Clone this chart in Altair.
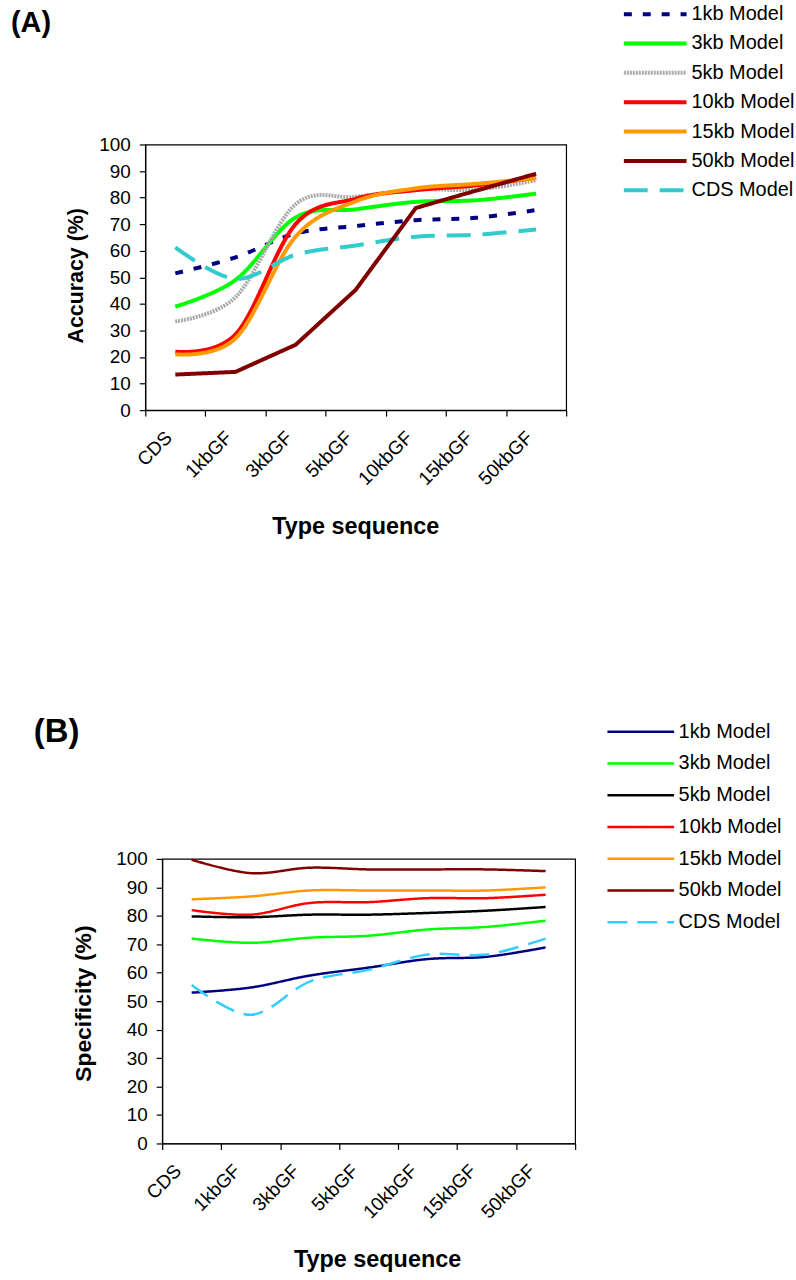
import altair as alt
import pandas as pd

categories = ["CDS", "1kbGF", "3kbGF", "5kbGF", "10kbGF", "15kbGF", "50kbGF"]
models = ["1kb Model", "3kb Model", "5kb Model", "10kb Model", "15kb Model", "50kb Model", "CDS Model"]

# Panel A: Accuracy (%)
acc_1kb = [51.5, 57.5, 66.5, 69.3, 71.5, 72.4, 75.3]
acc_3kb = [39.0, 49.0, 72.5, 75.6, 78.4, 79.0, 81.5]
acc_5kb = [33.4, 42.5, 77.5, 80.3, 83.0, 83.0, 86.5]
acc_10kb = [22.0, 28.5, 70.0, 79.6, 82.8, 84.6, 87.5]
acc_15kb = [21.0, 27.0, 65.3, 78.6, 83.5, 85.2, 87.3]
acc_50kb = [13.4, 14.4, 24.6, 45.3, 76.1, 82.6, 89.0]
acc_cds = [61.3, 49.4, 58.5, 62.0, 65.3, 66.0, 68.0]

# Panel B: Specificity (%)
spec_1kb = [53.0, 54.8, 59.0, 61.8, 64.8, 65.6, 68.9]
spec_3kb = [72.0, 70.5, 72.3, 73.0, 75.2, 76.1, 78.3]
spec_5kb = [79.8, 79.5, 80.4, 80.4, 81.0, 81.8, 83.1]
spec_10kb = [82.0, 80.4, 84.5, 84.8, 86.2, 86.2, 87.4]
spec_15kb = [85.8, 86.8, 88.9, 88.9, 88.9, 88.9, 90.0]
spec_50kb = [99.7, 95.0, 96.9, 96.3, 96.3, 96.3, 95.7]
spec_cds = [55.7, 45.2, 56.9, 61.0, 66.4, 66.4, 72.0]

FONT = "Liberation Sans"

colors_a = ["#000080", "#00FF00", "#A9A9A9", "#FF0000", "#FF9900", "#800000", "#33CCCC"]
dash_a = [[8, 11], [1, 0], [2, 1], [1, 0], [1, 0], [1, 0], [24, 12]]
colors_b = ["#000080", "#00FF00", "#000000", "#FF0000", "#FF9900", "#800000", "#33CCFF"]
dash_b = [[1, 0], [1, 0], [1, 0], [1, 0], [1, 0], [1, 0], [20, 10]]


def long_frame(series):
    rows = []
    for model, vals in zip(models, series):
        for cat, v in zip(categories, vals):
            rows.append({"type": cat, "model": model, "value": v})
    return pd.DataFrame(rows)


def panel(df, colors, dashes, width, height, ytitle, sw, legend_x, legend_y,
          row_pad, sym_size, clip_h, label_offset, ytitle_x, ytitle_y, ytitle_size,
          xtitle_x, panel_label, lab_x, lab_y, lab_size, linear_models):
    x = alt.X(
        "type:N", sort=categories, bandPosition=0.5,
        scale=alt.Scale(type="band", paddingInner=0, paddingOuter=0),
        axis=alt.Axis(title="Type sequence", tickBand="extent", labelAngle=-45,
                      labelAlign="right", labelBaseline="middle",
                      labelOffset=label_offset, labelPadding=18, tickSize=6,
                      labelFontSize=19, titleFontSize=23.5, titleFontWeight="bold",
                      titleX=xtitle_x, titleY=124, titleBaseline="alphabetic",
                      titleAlign="center"),
    )
    y = alt.Y(
        "value:Q", scale=alt.Scale(domain=[0, 100], nice=False),
        axis=alt.Axis(title=ytitle, values=list(range(0, 101, 10)), tickSize=6,
                      labelFontSize=19, labelPadding=9, grid=False,
                      titleFontSize=ytitle_size, titleFontWeight="bold",
                      titleX=ytitle_x, titleY=ytitle_y, titleAngle=270,
                      titleBaseline="alphabetic", titleAlign="center"),
    )
    leg = alt.Legend(title=None, orient="none", legendX=legend_x, legendY=legend_y,
                     symbolType="stroke", symbolSize=sym_size, symbolStrokeWidth=sw,
                     labelFontSize=20, labelOffset=3, rowPadding=row_pad, padding=0,
                     clipHeight=clip_h)
    color = alt.Color("model:N", scale=alt.Scale(domain=models, range=colors), legend=leg)
    dash = alt.StrokeDash("model:N", scale=alt.Scale(domain=models, range=dashes), legend=leg)
    base = alt.Chart(df).encode(x=x, y=y, color=color, strokeDash=dash)
    smooth_models = [m for m in models if m not in linear_models]
    layers = [
        base.transform_filter(alt.FieldOneOfPredicate(field="model", oneOf=smooth_models))
        .mark_line(interpolate="cardinal", strokeWidth=sw)
    ]
    if linear_models:
        layers.append(
            base.transform_filter(alt.FieldOneOfPredicate(field="model", oneOf=linear_models))
            .mark_line(strokeWidth=sw)
        )
    lab = alt.Chart(pd.DataFrame({"t": [panel_label]})).mark_text(
        align="left", baseline="alphabetic", fontSize=lab_size, fontWeight="bold", font=FONT
    ).encode(text="t:N", x=alt.value(lab_x), y=alt.value(lab_y))
    layers.append(lab)
    return alt.layer(*layers).properties(width=width, height=height)


panel_a = panel(long_frame([acc_1kb, acc_3kb, acc_5kb, acc_10kb, acc_15kb, acc_50kb, acc_cds]),
                colors_a, dash_a, 423, 267, "Accuracy (%)", 4, 479, -141, 9.5, 3969, 20, -7,
                -63, 131.5, 21.5, 211, "(A)", -135, -113, 29, ["50kb Model"])

panel_b = panel(long_frame([spec_1kb, spec_3kb, spec_5kb, spec_10kb, spec_15kb, spec_50kb, spec_cds]),
                colors_b, dash_b, 415, 286, "Specificity (%)", 2.5, 463, -138, 10.9, 4489, 20.5, -14,
                -72, 145, 23, 216, "(B)", -129, -117, 33, [])

spacer = alt.Chart(pd.DataFrame({"s": [0]})).mark_point(opacity=0).properties(
    width=17, height=10, view=alt.ViewBackground(stroke="transparent"))

chart = alt.vconcat(
    panel_a,
    alt.hconcat(spacer, panel_b, spacing=0, bounds="flush"),
    spacing=451, bounds="flush",
).resolve_scale(
    color="independent", strokeDash="independent", x="independent", y="independent"
).configure_view(
    stroke="black", strokeWidth=1.2
).configure_axis(
    labelFont=FONT, titleFont=FONT, labelColor="black", titleColor="black",
    domainColor="black", tickColor="black", domainWidth=1.2, tickWidth=1.2
).configure_legend(
    labelFont=FONT, labelColor="black"
).properties(
    padding={"left": 10, "top": 0, "right": 0, "bottom": 0},
    background="white"
)

chart.save("out.html", embed_options={"renderer": "svg", "actions": False})
